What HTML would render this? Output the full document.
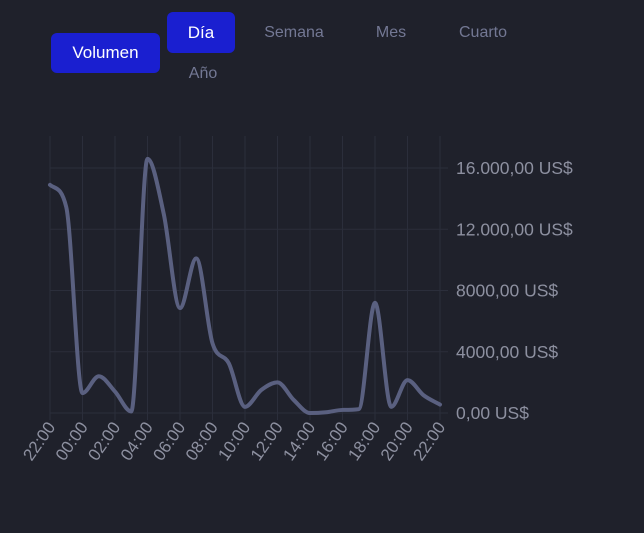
<!DOCTYPE html>
<html><head><meta charset="utf-8"><style>
html,body{margin:0;padding:0;background:#1f212b;width:644px;height:533px;overflow:hidden;font-family:"Liberation Sans",sans-serif}
.btn{position:absolute;border-radius:6px;font-size:16px;display:flex;align-items:center;justify-content:center;color:#737894}
.on{background:#1a1fd0;color:#fff}
</style></head><body>
<div class="btn on" style="left:51px;top:33px;width:109px;height:40px;font-size:17px">Volumen</div>
<div class="btn on" style="left:167px;top:12px;width:68px;height:41px;font-size:17px">Día</div>
<div class="btn" style="left:254px;top:12px;width:80px;height:41px">Semana</div>
<div class="btn" style="left:361px;top:12px;width:60px;height:41px">Mes</div>
<div class="btn" style="left:448px;top:12px;width:70px;height:41px">Cuarto</div>
<div class="btn" style="left:173px;top:53px;width:60px;height:41px">Año</div>
<svg id="chart" width="644" height="533" style="position:absolute;left:0;top:0"></svg>
<script>
const categories=["22:00","23:00","00:00","01:00","02:00","03:00","04:00","05:00","06:00","07:00","08:00","09:00","10:00","11:00","12:00","13:00","14:00","15:00","16:00","17:00","18:00","19:00","20:00","21:00","22:00"];
const values=[14900,13450,1300,2400,1400,100,16600,13000,6850,10100,4550,3250,400,1500,2000,850,0,50,200,250,7200,400,2150,1150,550];
const yTicks=[0,4000,8000,12000,16000];
const yTickLabels=["0,00 US$","4000,00 US$","8000,00 US$","12.000,00 US$","16.000,00 US$"];
const NS="http://www.w3.org/2000/svg";
const svg=document.getElementById('chart');
const x0=50,x1=440,y0=413,yTop=168;
const xs=i=>x0+(x1-x0)*i/(categories.length-1);
const ys=v=>y0-(y0-yTop)*v/16000;
function mk(t,a){const e=document.createElementNS(NS,t);for(const k in a)e.setAttribute(k,a[k]);svg.appendChild(e);return e;}
for(let i=0;i<categories.length;i+=2){
 const g=mk('line',{x1:xs(i),x2:xs(i),y1:136,y2:420,stroke:'#2b2e3b','stroke-width':1});
 
 
 const t=mk('text',{x:0,y:0,fill:'#8d90a0','font-size':17,'text-anchor':'end',transform:`translate(${xs(i)+6},${427}) rotate(-55)`});
 t.textContent=categories[i];
 
 
}
yTicks.forEach((v,k)=>{
 const g=mk('line',{x1:x0,x2:448,y1:ys(v),y2:ys(v),stroke:'#2b2e3b','stroke-width':1});
 
 
 const t=mk('text',{x:456,y:ys(v)+6,fill:'#8d90a0','font-size':17.5});
 t.textContent=yTickLabels[k];
 
 
});
const P=values.map((v,i)=>[xs(i),ys(v)]);
const n=P.length,d=[],m=[];
for(let i=0;i<n-1;i++)d.push((P[i+1][1]-P[i][1])/(P[i+1][0]-P[i][0]));
m[0]=d[0];m[n-1]=d[n-2];
for(let i=1;i<n-1;i++)m[i]=(d[i-1]*d[i]<=0)?0:(d[i-1]+d[i])/2;
for(let i=0;i<n-1;i++){if(d[i]===0){m[i]=m[i+1]=0;continue;}const a=m[i]/d[i],b=m[i+1]/d[i],s=a*a+b*b;if(s>9){const t=3/Math.sqrt(s);m[i]=t*a*d[i];m[i+1]=t*b*d[i];}}
let p=`M${P[0][0]},${P[0][1]}`;
for(let i=0;i<n-1;i++){const h=(P[i+1][0]-P[i][0])/3;p+=` C${P[i][0]+h},${P[i][1]+m[i]*h} ${P[i+1][0]-h},${P[i+1][1]-m[i+1]*h} ${P[i+1][0]},${P[i+1][1]}`;}
const l=mk('path',{d:p,fill:'none',stroke:'#5a6080','stroke-width':4,'stroke-linejoin':'round','stroke-linecap':'round'});


</script>
</body></html>
